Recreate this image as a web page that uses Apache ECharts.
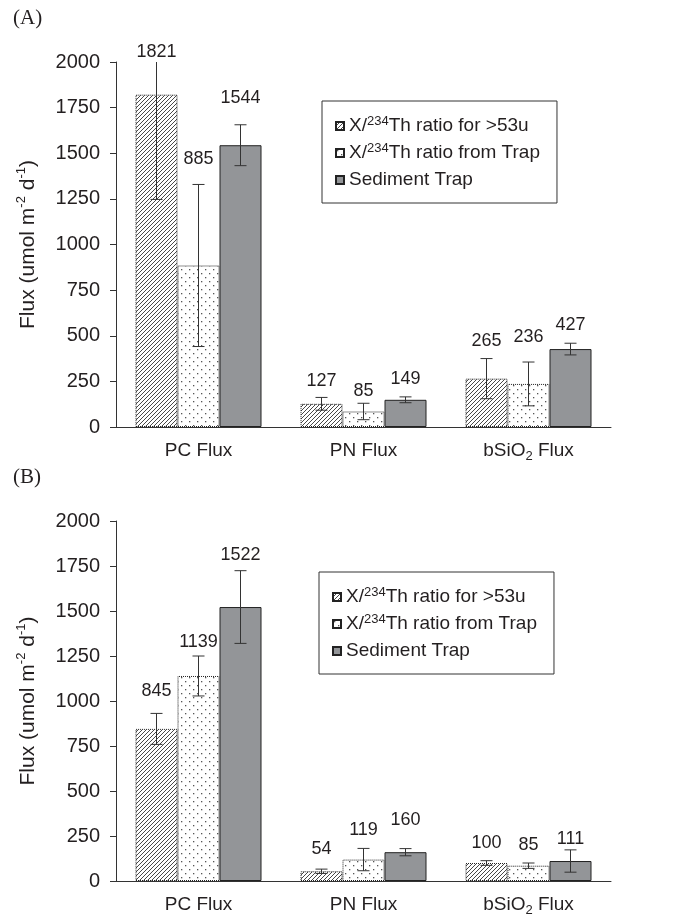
<!DOCTYPE html>
<html>
<head>
<meta charset="utf-8">
<script src="https://cdn.jsdelivr.net/npm/echarts@6/dist/echarts.min.js"></script>
<style>
html, body { margin: 0; padding: 0; background: #fff; }
#chart { width: 678px; height: 918px; }
</style>
</head>
<body>
<div id="chart"></div>
<script>
var categories = ['PC Flux', 'PN Flux', 'bSiO2 Flux'];
var seriesNames = ['X/234Th ratio for >53u', 'X/234Th ratio from Trap', 'Sediment Trap'];

// panel (A)
var ratio53A = [1821, 127, 265];
var ratio53ErrA = [574, 35, 110];
var trapRatioA = [885, 85, 236];
var trapRatioErrA = [444, 45, 120];
var sedTrapA = [1544, 149, 427];
var sedTrapErrA = [112, 16, 32];

// panel (B)
var ratio53B = [845, 54, 100];
var ratio53ErrB = [86, 12, 13];
var trapRatioB = [1139, 119, 85];
var trapRatioErrB = [111, 62, 15];
var sedTrapB = [1522, 160, 111];
var sedTrapErrB = [202, 20, 62];

var yMax = 2000;
var yStep = 250;

// label lift above error bar top (px), per series then category
var liftA = [[10, 16, 18], [25, 12, 25], [27, 18, 18]];
var liftB = [[22, 20, 18], [14, 18, 18], [16, 29, 11]];

var BAR_W = 42;
var FONT = '"Liberation Sans", Arial, sans-serif';
var INK = '#231f20';

function hatchPattern() {
    var c = document.createElement('canvas');
    c.width = 4; c.height = 4;
    var g = c.getContext('2d');
    g.fillStyle = '#fff';
    g.fillRect(0, 0, 4, 4);
    g.strokeStyle = '#333';
    g.lineWidth = 0.9;
    g.beginPath();
    g.moveTo(0, 4); g.lineTo(4, 0);
    g.moveTo(-1, 1); g.lineTo(1, -1);
    g.moveTo(3, 5); g.lineTo(5, 3);
    g.stroke();
    return c;
}

function dotPattern() {
    var c = document.createElement('canvas');
    c.width = 8; c.height = 8;
    var g = c.getContext('2d');
    g.fillStyle = '#fff';
    g.fillRect(0, 0, 8, 8);
    g.fillStyle = '#555';
    g.fillRect(1, 1, 1.3, 1.3);
    g.fillRect(5, 5, 1.3, 1.3);
    return c;
}

var fills = [
    { image: hatchPattern(), repeat: 'repeat' },
    { image: dotPattern(), repeat: 'repeat' },
    '#939598'
];
var borders = ['dotted', 'dotted', 'solid'];

function errData(vals, errs, lifts) {
    var out = [];
    for (var s = 0; s < 3; s++) {
        for (var i = 0; i < vals[s].length; i++) {
            out.push([i, s, vals[s][i], errs[s][i], lifts[s][i]]);
        }
    }
    return out;
}

function renderErr(params, api) {
    var ci = api.value(0), si = api.value(1), v = api.value(2), e = api.value(3), lift = api.value(4);
    var hi = v + e, lo = Math.max(v - e, 0);
    var top = Math.min(hi, yMax);
    var pTop = api.coord([ci, top]);
    var pBot = api.coord([ci, lo]);
    var x = pTop[0] + (si - 1) * BAR_W;
    var cap = 6;
    var ls = { stroke: '#333', lineWidth: 1 };
    var kids = [
        { type: 'line', shape: { x1: x, y1: pTop[1], x2: x, y2: pBot[1] }, style: ls },
        { type: 'line', shape: { x1: x - cap, y1: pBot[1], x2: x + cap, y2: pBot[1] }, style: ls }
    ];
    if (hi <= yMax) {
        kids.push({ type: 'line', shape: { x1: x - cap, y1: pTop[1], x2: x + cap, y2: pTop[1] }, style: ls });
    }
    kids.push({
        type: 'text',
        style: {
            text: String(v), x: x, y: pTop[1] - lift,
            align: 'center', verticalAlign: 'middle',
            font: '18px ' + FONT, fill: INK
        }
    });
    return { type: 'group', children: kids };
}

function barSeries(name, idx, data, axis) {
    return {
        name: name,
        type: 'bar',
        xAxisIndex: axis,
        yAxisIndex: axis,
        barWidth: BAR_W,
        barGap: '0%',
        data: data,
        animation: false,
        itemStyle: {
            color: fills[idx],
            borderColor: '#222',
            borderWidth: 1,
            borderType: borders[idx]
        }
    };
}

function xAxisOpt(grid) {
    return {
        type: 'category',
        gridIndex: grid,
        data: categories,
        axisLine: { lineStyle: { color: '#333', width: 1 } },
        axisTick: { length: 5, lineStyle: { color: '#333' } },
        axisLabel: {
            interval: 0,
            margin: 12,
            color: INK,
            fontFamily: FONT,
            fontSize: 19,
            lineHeight: 24,
            formatter: function (v) { return v.replace('SiO2', 'SiO{sub|2}'); },
            rich: {
                sub: { fontSize: 13, lineHeight: 12, verticalAlign: 'bottom', fontFamily: FONT, color: INK }
            }
        }
    };
}

function yAxisOpt(grid) {
    return {
        type: 'value',
        gridIndex: grid,
        min: 0,
        max: yMax,
        interval: yStep,
        name: 'Flux (umol m{sup|-2} d{sup|-1})',
        nameLocation: 'middle',
        nameRotate: 90,
        nameGap: 75,
        nameTextStyle: {
            color: INK,
            fontFamily: FONT,
            fontSize: 21,
            lineHeight: 26,
            rich: {
                sup: { fontSize: 13, lineHeight: 13, verticalAlign: 'top', fontFamily: FONT, color: INK }
            }
        },
        axisLine: { show: true, lineStyle: { color: '#333', width: 1 } },
        axisTick: { show: true, length: 6, lineStyle: { color: '#333' } },
        splitLine: { show: false },
        axisLabel: {
            margin: 16,
            color: INK,
            fontFamily: FONT,
            fontSize: 20,
            formatter: function (v) { return String(v); }
        }
    };
}

function legendOpt(left, top) {
    return {
        data: seriesNames,
        orient: 'vertical',
        left: left,
        top: top,
        padding: [14, 17, 12, 13],
        itemGap: 5,
        itemWidth: 8,
        itemHeight: 8,
        icon: 'rect',
        borderColor: '#333',
        borderWidth: 1,
        selectedMode: false,
        formatter: function (n) { return n.replace('234', '{sup|234}'); },
        textStyle: {
            color: INK,
            fontFamily: FONT,
            fontSize: 19,
            lineHeight: 22,
            rich: {
                sup: { fontSize: 13, lineHeight: 13, verticalAlign: 'top', fontFamily: FONT, color: INK }
            }
        }
    };
}

var option = {
    backgroundColor: '#fff',
    animation: false,
    grid: [
        { left: 116, top: 62, width: 495, height: 365 },
        { left: 116, top: 521, width: 495, height: 360 }
    ],
    legend: [legendOpt(322, 101), legendOpt(319, 572)],
    xAxis: [xAxisOpt(0), xAxisOpt(1)],
    yAxis: [yAxisOpt(0), yAxisOpt(1)],
    graphic: [
        { type: 'text', left: 13, top: 8, style: { text: '(A)', font: '21px "Liberation Serif", "Times New Roman", serif', fill: INK } },
        { type: 'text', left: 13, top: 467, style: { text: '(B)', font: '21px "Liberation Serif", "Times New Roman", serif', fill: INK } }
    ],
    series: [
        barSeries(seriesNames[0], 0, ratio53A, 0),
        barSeries(seriesNames[1], 1, trapRatioA, 0),
        barSeries(seriesNames[2], 2, sedTrapA, 0),
        barSeries(seriesNames[0], 0, ratio53B, 1),
        barSeries(seriesNames[1], 1, trapRatioB, 1),
        barSeries(seriesNames[2], 2, sedTrapB, 1),
        {
            type: 'custom',
            xAxisIndex: 0,
            yAxisIndex: 0,
            z: 5,
            renderItem: renderErr,
            encode: { x: 0, y: 2 },
            data: errData([ratio53A, trapRatioA, sedTrapA], [ratio53ErrA, trapRatioErrA, sedTrapErrA], liftA)
        },
        {
            type: 'custom',
            xAxisIndex: 1,
            yAxisIndex: 1,
            z: 5,
            renderItem: renderErr,
            encode: { x: 0, y: 2 },
            data: errData([ratio53B, trapRatioB, sedTrapB], [ratio53ErrB, trapRatioErrB, sedTrapErrB], liftB)
        }
    ]
};

echarts.init(document.getElementById('chart')).setOption(option);
</script>
</body>
</html>
